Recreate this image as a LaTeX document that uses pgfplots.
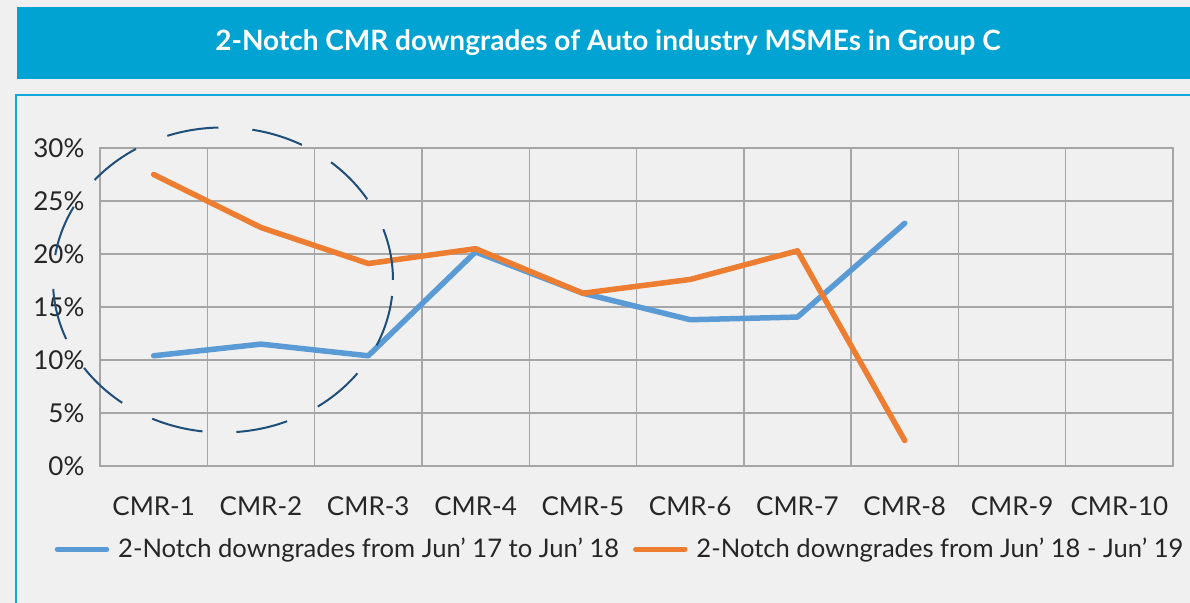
\documentclass[border=0pt]{standalone}
\usepackage{fontspec}
\setmainfont{Lato}
\usepackage{pgfplots}
\pgfplotsset{compat=1.18}
\definecolor{bg}{HTML}{F0F0F0}
\definecolor{banner}{HTML}{00A3D1}
\definecolor{boxline}{HTML}{12A7DA}
\definecolor{sblue}{HTML}{5B9BD5}
\definecolor{sorange}{HTML}{ED7D31}
\definecolor{ell}{HTML}{1F4E79}
\definecolor{txt}{HTML}{262626}
\definecolor{gridc}{HTML}{A6A6A6}
\begin{document}
\begin{tikzpicture}
\useasboundingbox (0,0) rectangle (595bp,-301.5bp);
\fill[bg] (0,0) rectangle (595bp,-301.5bp);
\fill[banner] (8.5bp,-3.5bp) rectangle (595bp,-39.5bp);
\node[text=white, font=\bfseries\fontsize{14bp}{16bp}\selectfont] at (304bp,-21.5bp) {2-Notch CMR downgrades of Auto industry MSMEs in Group C};
\draw[boxline, line width=1.2bp] (8bp,-302bp) -- (8bp,-47.5bp) -- (596bp,-47.5bp);
\begin{axis}[
  at={(50bp,-233bp)}, anchor=south west,
  width=536.5bp, height=159bp, scale only axis,
  xmin=-0.5, xmax=9.5, ymin=0, ymax=0.3,
  xtick={0,...,9},
  xticklabels={CMR-1,CMR-2,CMR-3,CMR-4,CMR-5,CMR-6,CMR-7,CMR-8,CMR-9,CMR-10},
  minor xtick={-0.5,0.5,...,9.5},
  ytick={0,0.05,0.1,0.15,0.2,0.25,0.3},
  yticklabels={0\%,5\%,10\%,15\%,20\%,25\%,30\%},
  xmajorgrids=false, xminorgrids=true, ymajorgrids=true,
  grid style={gridc, line width=0.7bp},
  minor grid style={gridc, line width=0.7bp},
  major tick length=0pt, minor tick length=0pt,
  axis line style={gridc, line width=0.7bp},
  tick label style={font=\fontsize{13bp}{15bp}\selectfont, text=txt},
  yticklabel style={xshift=-4.3bp},
  xticklabel style={yshift=-11.6bp},
  clip=false,
  legend columns=2,
  legend style={at={(0.4856,-0.262)}, anchor=center, draw=none, fill=none,
    font=\fontsize{12.8bp}{15bp}\selectfont, text=txt,
    /tikz/every odd column/.append style={column sep=2.5bp},
    /tikz/every even column/.append style={column sep=5bp}},
  legend image code/.code={\draw[#1, line width=2.2bp] (0bp,0bp) -- (25bp,0bp);},
]
\addplot[sblue, line width=2.75bp, line join=round, line cap=round] coordinates {
 (0,0.104) (1,0.115) (2,0.104) (3,0.202) (4,0.163) (5,0.138) (6,0.1405) (7,0.229)};
\addlegendentry{2-Notch downgrades from Jun’ 17 to Jun’ 18}
\addplot[sorange, line width=2.75bp, line join=round, line cap=round] coordinates {
 (0,0.275) (1,0.225) (2,0.191) (3,0.205) (4,0.163) (5,0.176) (6,0.203) (7,0.024)};
\addlegendentry{2-Notch downgrades from Jun’ 18 - Jun’ 19}
\draw[ell, line width=1bp, dash pattern=on 26bp off 17bp] (axis cs:0.646,0.1755) ellipse [x radius=85bp, y radius=76.25bp];
\end{axis}
\end{tikzpicture}
\end{document}
